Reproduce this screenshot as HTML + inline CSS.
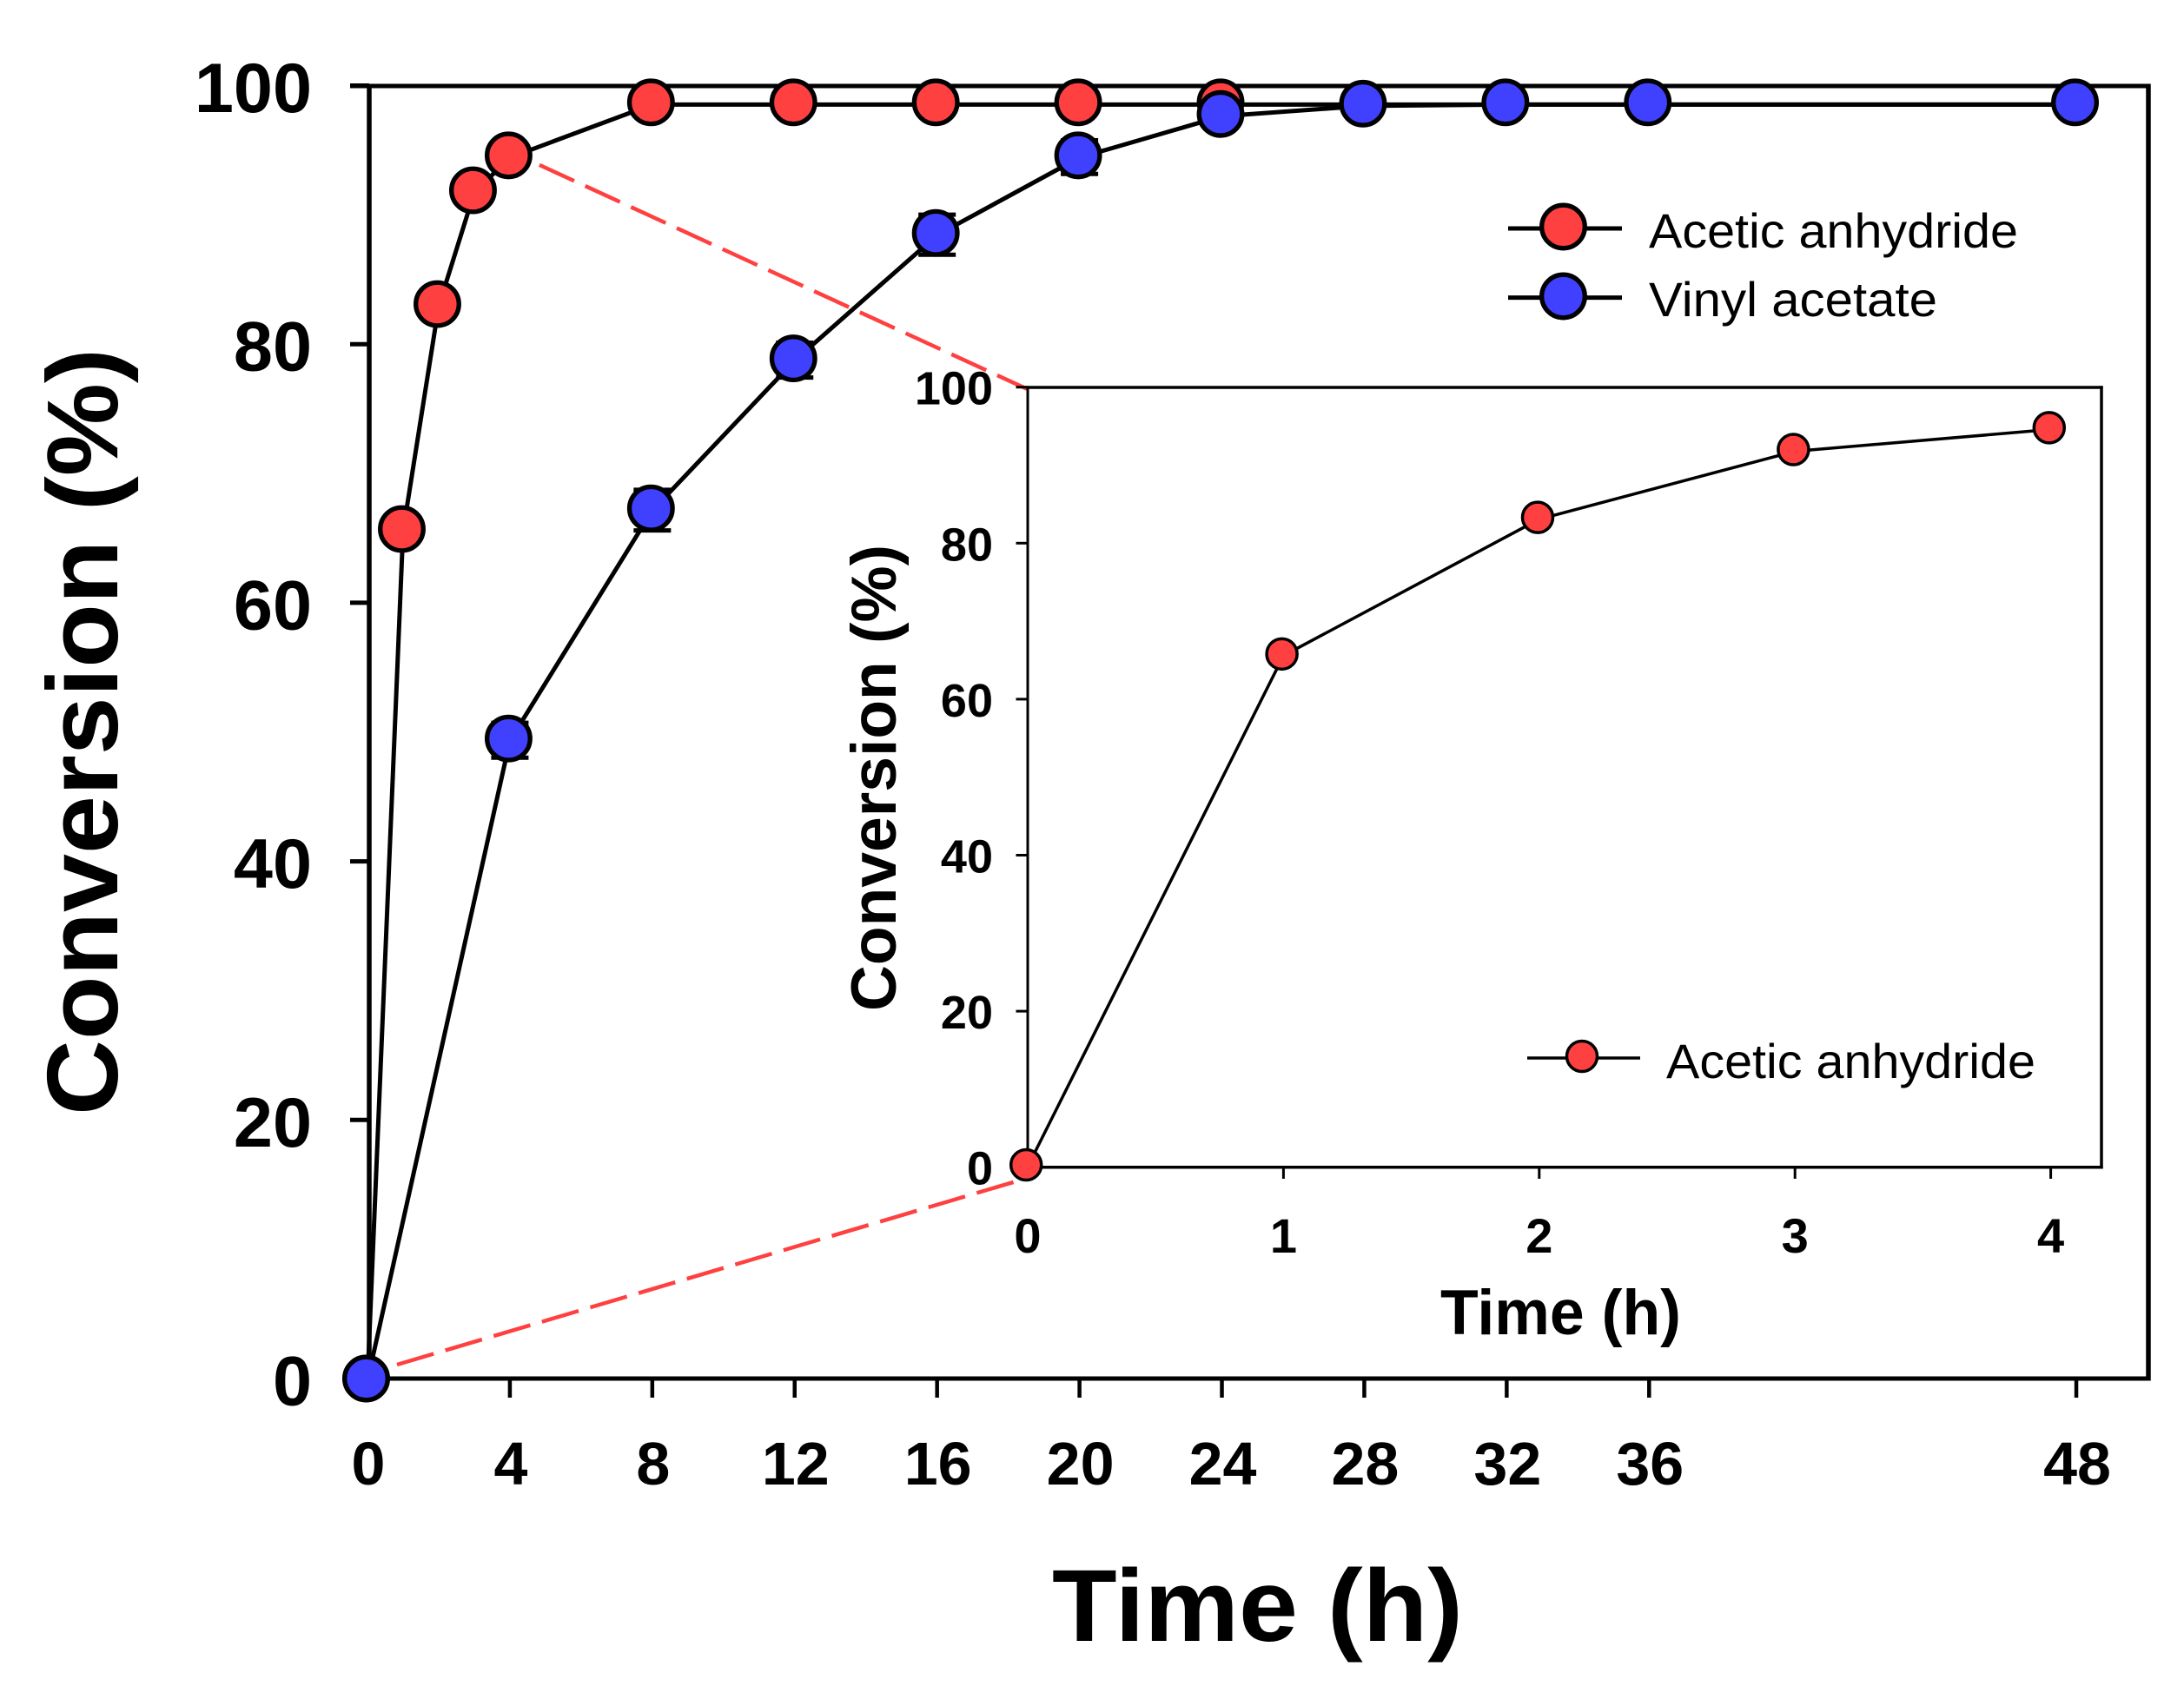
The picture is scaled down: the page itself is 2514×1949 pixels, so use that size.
<!DOCTYPE html>
<html lang="en">
<head>
<meta charset="utf-8">
<title>Conversion over time</title>
<style>
html,body{margin:0;padding:0;background:#fff;}
svg{display:block;font-family:"Liberation Sans",Arial,sans-serif;}
</style>
</head>
<body>
<svg id="chart" xmlns="http://www.w3.org/2000/svg" width="2514" height="1949" viewBox="0 0 2514 1949"></svg>
<script>
// ---- main chart data ----
const mainXTicks = [0, 4, 8, 12, 16, 20, 24, 28, 32, 36, 48];
const mainYTicks = [0, 20, 40, 60, 80, 100];
const acTimes = [0, 1, 2, 3, 4, 8, 12, 16, 20, 24];
const acValues = [0, 65.7, 83.1, 91.9, 94.6, 98.7, 98.7, 98.7, 98.7, 98.7];
const vaTimes = [0, 4, 8, 12, 16, 20, 24, 28, 32, 36, 48];
const vaValues = [0, 49.5, 67.3, 78.9, 88.6, 94.6, 97.8, 98.6, 98.7, 98.7, 98.7];
const vaErrors = [0, 1.35, 1.57, 1.35, 1.55, 1.3, 0, 0, 0, 0, 0];
// ---- inset chart data ----
const insetXTicks = [0, 1, 2, 3, 4];
const insetYTicks = [0, 20, 40, 60, 80, 100];
const insetTimes = [0, 1, 2, 3, 4];
const insetValues = [0.3, 65.8, 83.3, 92, 94.8];

const RED = '#FF4040', BLUE = '#4040FF';
const svg = document.getElementById('chart');
const NS = 'http://www.w3.org/2000/svg';

// axis functions
const mx = h => 423 + 40.98 * h;
const my = v => 1587 - 14.885 * v;
const ix = h => 1183 + 294.4 * h;
const iy = v => 1343.7 - 8.98 * v;

function make(tag, name, attrs, parent) {
  const el = document.createElementNS(NS, tag);
  
  
  for (const k in attrs) el.setAttribute(k, attrs[k]);
  (parent || svg).appendChild(el);
  return el;
}
function line(name, x1, y1, x2, y2, w, color, parent) {
  return make('line', name, {x1, y1, x2, y2, stroke: color || '#000', 'stroke-width': w}, parent);
}
function text(name, s, x, y, size, weight, anchor, len, parent) {
  const a = {x, y, 'font-size': size, 'font-weight': weight, 'text-anchor': anchor || 'start', fill: '#000'};
  if (len) { a.textLength = len; a.lengthAdjust = 'spacingAndGlyphs'; }
  const t = make('text', name, a, parent);
  t.textContent = s;
  return t;
}
function vtext(name, s, x, yBottom, size, len, parent) {
  const t = make('text', name, {
    transform: 'translate(' + x + ' ' + yBottom + ') rotate(-90)',
    'font-size': size, 'font-weight': 'bold', fill: '#000',
    textLength: len, lengthAdjust: 'spacingAndGlyphs'
  }, parent);
  t.textContent = s;
  return t;
}
function poly(name, xs, ys, xf, yf, dy, w, parent) {
  const pts = xs.map((x, i) => xf(x) + ',' + (yf(ys[i]) + dy)).join(' ');
  return make('polyline', name, {points: pts, fill: 'none', stroke: '#000', 'stroke-width': w, 'stroke-linejoin': 'miter'}, parent);
}
function dot(name, cx, cy, r, sw, fill, parent) {
  return make('circle', name, {cx, cy, r, fill, stroke: '#000', 'stroke-width': sw}, parent);
}

// ---- main frame ----
const mainFrame = make('g', 'main-axes', {});
line('main-left-axis', 425, 99, 425, 1587, 5.5, '#000', mainFrame);
line('main-top-axis', 403, 99, 2473, 99, 5, '#000', mainFrame);
line('main-right-axis', 2473, 96.5, 2473, 1589.5, 5.5, '#000', mainFrame);
line('main-bottom-axis', 423, 1587, 2473, 1587, 5, '#000', mainFrame);
mainYTicks.forEach(v => {
  line('main-y-tick', 403, my(v), 425, my(v), 5, '#000', mainFrame);
  text('main-y-tick-label', String(v), 359, my(v) + 30.5, 81, 'bold', 'end', null, mainFrame);
});
mainXTicks.forEach(h => {
  line('main-x-tick', mx(h), 1587, mx(h), 1609, 4.5, '#000', mainFrame);
  text('main-x-tick-label', String(h), mx(h) + 1, 1709, 70, 'bold', 'middle', null, mainFrame);
});
vtext('main-y-axis-title', 'Conversion (%)', 135, 1284, 116, 883);
text('main-x-axis-title', 'Time (h)', 1211, 1889, 118, 'bold', 'start', 473);

// ---- connector lines (zoom indicator) ----
const connA = make('line', 'zoom-connector-top', {
  x1: mx(4) + 34, y1: my(94.6) + 11,
  x2: ix(0) - 1, y2: iy(100) + 2,
  stroke: RED, 'stroke-width': 4.5, 'stroke-dasharray': '44 14'
});
const connB = make('line', 'zoom-connector-bottom', {
  x1: mx(0) + 34, y1: my(0) - 16,
  x2: ix(0) - 9, y2: iy(0) + 15,
  stroke: RED, 'stroke-width': 4.5, 'stroke-dasharray': '44 14'
});

// ---- acetic anhydride series ----
const acGroup = make('g', 'acetic-anhydride-series', {});
poly('acetic-anhydride-line', acTimes, acValues, mx, my, 2.5, 5, acGroup);
// vinyl acetate line & error bars sit with their own group below
const vaGroup = make('g', 'vinyl-acetate-series', {});
poly('vinyl-acetate-line', vaTimes, vaValues, mx, my, 2.5, 5, vaGroup);
poly('acetic-anhydride-tail', [24, 48], [98.7, 98.7], mx, my, 2.5, 5, acGroup);
vaTimes.forEach((h, i) => {
  if (!vaErrors[i]) return;
  const cy = my(vaValues[i]) + 2;
  const d = vaErrors[i] * 14.885;
  line('vinyl-acetate-error-bar', mx(h), cy - d, mx(h), cy + d, 4, '#000', vaGroup);
  line('vinyl-acetate-error-cap-top', mx(h) - 21.5, cy - d, mx(h) + 21.5, cy - d, 5, '#000', vaGroup);
  line('vinyl-acetate-error-cap-bottom', mx(h) - 21.5, cy + d, mx(h) + 21.5, cy + d, 5, '#000', vaGroup);
});
acTimes.forEach((h, i) => {
  dot('acetic-anhydride-point', mx(h) - 1.5, my(acValues[i]), 24.8, 5.3, RED, acGroup);
});
svg.appendChild(vaGroup);
vaTimes.forEach((h, i) => {
  dot('vinyl-acetate-point', mx(h) - 1.5, my(vaValues[i]), 24.8, 5.3, BLUE, vaGroup);
});

// ---- main legend ----
const legend = make('g', 'main-legend', {});
const legAc = make('g', 'legend-entry-acetic-anhydride', {}, legend);
line('legend-line-acetic-anhydride', 1736, 263, 1867, 263, 5, '#000', legAc);
dot('legend-marker-acetic-anhydride', 1799.5, 261, 24.8, 5.3, RED, legAc);
text('legend-label-acetic-anhydride', 'Acetic anhydride', 1898, 285, 56, 'normal', 'start', 425, legAc);
const legVa = make('g', 'legend-entry-vinyl-acetate', {}, legend);
line('legend-line-vinyl-acetate', 1736, 342.6, 1867, 342.6, 5, '#000', legVa);
dot('legend-marker-vinyl-acetate', 1799.5, 341, 24.8, 5.3, BLUE, legVa);
text('legend-label-vinyl-acetate', 'Vinyl acetate', 1898, 364, 56, 'normal', 'start', 332, legVa);

// ---- inset chart ----
const inset = make('g', 'inset-chart', {});
line('inset-left-axis', 1183, 446, 1183, 1343.7, 3, '#000', inset);
line('inset-top-axis', 1181.5, 446, 2420.7, 446, 3.5, '#000', inset);
line('inset-right-axis', 2419, 444.3, 2419, 1345.4, 3.5, '#000', inset);
line('inset-bottom-axis', 1183, 1343.7, 2420.7, 1343.7, 3.5, '#000', inset);
insetYTicks.forEach(v => {
  line('inset-y-tick', 1169.5, iy(v), 1183, iy(v), 3, '#000', inset);
  text('inset-y-tick-label', String(v), 1143, iy(v) + 20, 54, 'bold', 'end', null, inset);
});
insetXTicks.forEach(h => {
  line('inset-x-tick', ix(h), 1343.7, ix(h), 1357, 3, '#000', inset);
  text('inset-x-tick-label', String(h), ix(h), 1442, 56, 'bold', 'middle', null, inset);
});
vtext('inset-y-axis-title', 'Conversion (%)', 1031, 1164, 73, 537, inset);
text('inset-x-axis-title', 'Time (h)', 1658, 1536, 73, 'bold', 'start', 277, inset);
poly('inset-acetic-anhydride-line', insetTimes, insetValues, ix, iy, 2, 3.5, inset);
insetTimes.forEach((h, i) => {
  dot('inset-acetic-anhydride-point', ix(h) - 1.8, iy(insetValues[i]), 17.5, 3.5, RED, inset);
});

// ---- inset legend ----
const insetLegend = make('g', 'inset-legend', {}, inset);
line('inset-legend-line', 1758, 1218, 1888, 1218, 3.5, '#000', insetLegend);
dot('inset-legend-marker', 1821, 1216, 17.5, 3.5, RED, insetLegend);
text('inset-legend-label', 'Acetic anhydride', 1918, 1241, 56, 'normal', 'start', 425, insetLegend);
</script>
</body>
</html>
